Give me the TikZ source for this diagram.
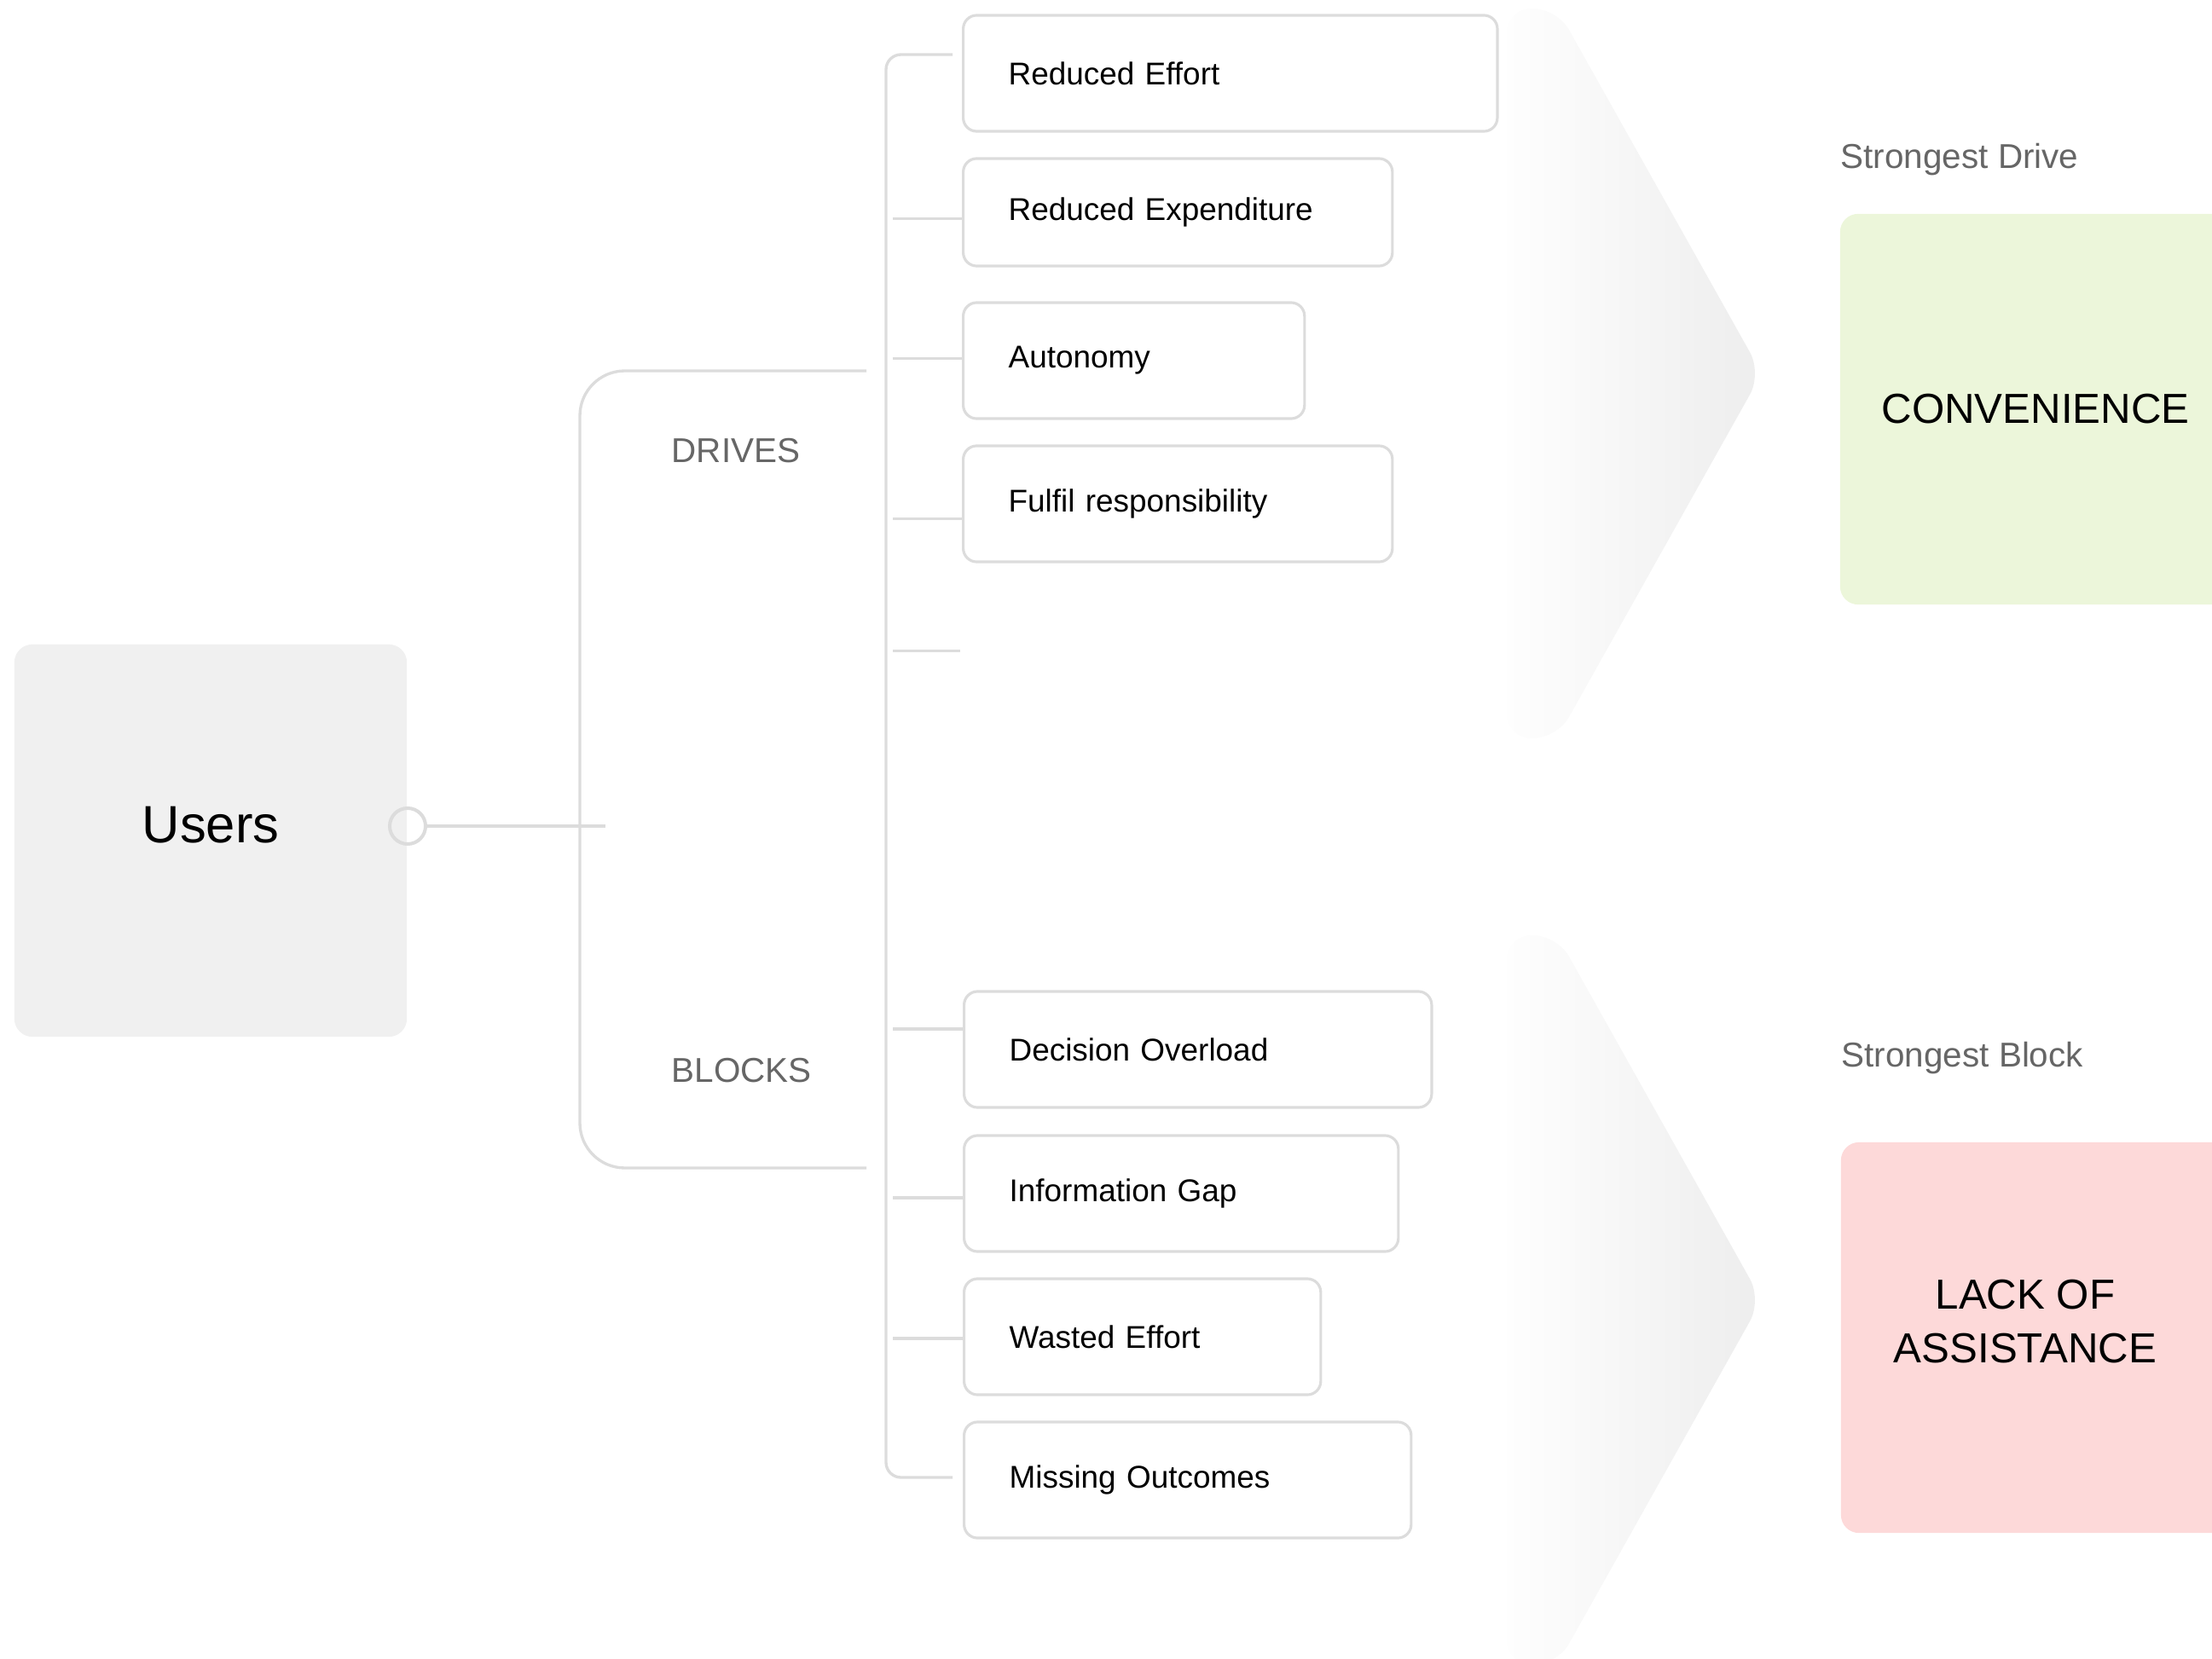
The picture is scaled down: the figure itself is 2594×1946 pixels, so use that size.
\documentclass[tikz,border=0pt]{standalone}
\usepackage{fontspec}
\setmainfont{Liberation Sans}
\usepackage{tikz}
\definecolor{linegray}{RGB}{220,220,220}
\definecolor{usersgray}{RGB}{240,240,240}
\definecolor{labelgray}{RGB}{102,102,102}
\definecolor{drivegreen}{RGB}{236,246,218}
\definecolor{blockred}{RGB}{253,217,217}
\definecolor{chevleft}{RGB}{254,254,254}
\definecolor{chevright}{RGB}{237,237,237}
\tikzstyle{link} = [draw=linegray, line width=0.95pt]
\tikzstyle{item} = [draw=linegray, line width=0.9pt, rounded corners=4.5pt, anchor=west, inner xsep=0.53cm, minimum height=1.36cm, align=left, font=\fontsize{10.5}{12.6}\selectfont]

\begin{document}
\begin{tikzpicture}[x=0.01cm, y=-0.01cm,
		biglabel/.style={font=\fontsize{14}{17.9}\selectfont, align=center, minimum width=4.58cm, minimum height=4.58cm, rounded corners=6pt},
		grouplabel/.style={text=labelgray, font=\fontsize{11.5}{13.8}\selectfont, anchor=west, inner sep=0pt}]
	\useasboundingbox (0,0) rectangle (2594,1946);
	\clip (0,0) rectangle (2594,1946);
	%Pfeile im Hintergrund
	\shade[left color=chevleft, right color=chevright, rounded corners=8pt] (1767,10) -- (1826,10) -- (2066,438) -- (1826,866) -- (1767,866) -- cycle;
	\shade[left color=chevleft, right color=chevright, rounded corners=8pt] (1767,1097) -- (1826,1097) -- (2066,1525) -- (1826,1953) -- (1767,1953) -- cycle;
	%Users
	\node[fill=usersgray, rounded corners=6pt, minimum width=4.6cm, minimum height=4.6cm,
		label={[font=\fontsize{17.5}{21}\selectfont, yshift=0.18cm]center:Users}] (users) at (247,986) {};
	\node[circle, draw=linegray, line width=1.14pt, minimum size=0.42cm, inner sep=0pt] (dot) at (478,969) {};
	\coordinate (joint) at (710,969);
	\draw[link] (dot) -- (joint);
	%Klammern
	\draw[link, rounded corners=15pt] (1016,435) -- (680,435) -- (680,1370) -- (1016,1370);
	\draw[link, rounded corners=5pt] (1117,64) -- (1039,64) -- (1039,1733) -- (1117,1733);
	\node[grouplabel] (drives) at (787,529) {DRIVES};
	\node[grouplabel] (blocks) at (787,1256) {BLOCKS};
	%Drives
	\node[item, text width=5.20cm] (re1) at (1128,86) {Reduced Effort};
	\node[item, text width=3.97cm, minimum height=1.26cm] (re2) at (1128,249) {Reduced Expenditure};
	\node[item, text width=2.94cm] (re3) at (1128,423) {Autonomy};
	\node[item, text width=3.97cm] (re4) at (1128,591) {Fulfil responsibility};
	%Blocks
	\node[item, text width=4.42cm] (bl1) at (1129,1231) {Decision Overload};
	\node[item, text width=4.03cm] (bl2) at (1129,1400) {Information Gap};
	\node[item, text width=3.12cm] (bl3) at (1129,1568) {Wasted Effort};
	\node[item, text width=4.18cm] (bl4) at (1129,1736) {Missing Outcomes};
	%Striche
	\draw[link] (1047,256.6) -- (1047,256.6 -| re2.west);
	\draw[link] (1047,420.7) -- (1047,420.7 -| re3.west);
	\draw[link] (1047,608.5) -- (1047,608.5 -| re4.west);
	\draw[link] (1047,763.4) -- (1126,763.4);
	\draw[link] (1047,1207) -- (1047,1207 -| bl1.west);
	\draw[link] (1047,1405) -- (1047,1405 -| bl2.west);
	\draw[link] (1047,1570) -- (1047,1570 -| bl3.west);
	%Ergebnis
	\node[grouplabel] (sdrive) at (2158,187) {Strongest Drive};
	\node[biglabel, fill=drivegreen] (conv) at (2387,480) {CONVENIENCE};
	\node[grouplabel] (sblock) at (2159,1241) {Strongest Block};
	\node[biglabel, fill=blockred,
		label={[font=\fontsize{14}{17.9}\selectfont, align=center, xshift=-0.13cm, yshift=0.19cm]center:LACK OF\\ASSISTANCE}] (lack) at (2388,1569) {};
\end{tikzpicture}
\end{document}
